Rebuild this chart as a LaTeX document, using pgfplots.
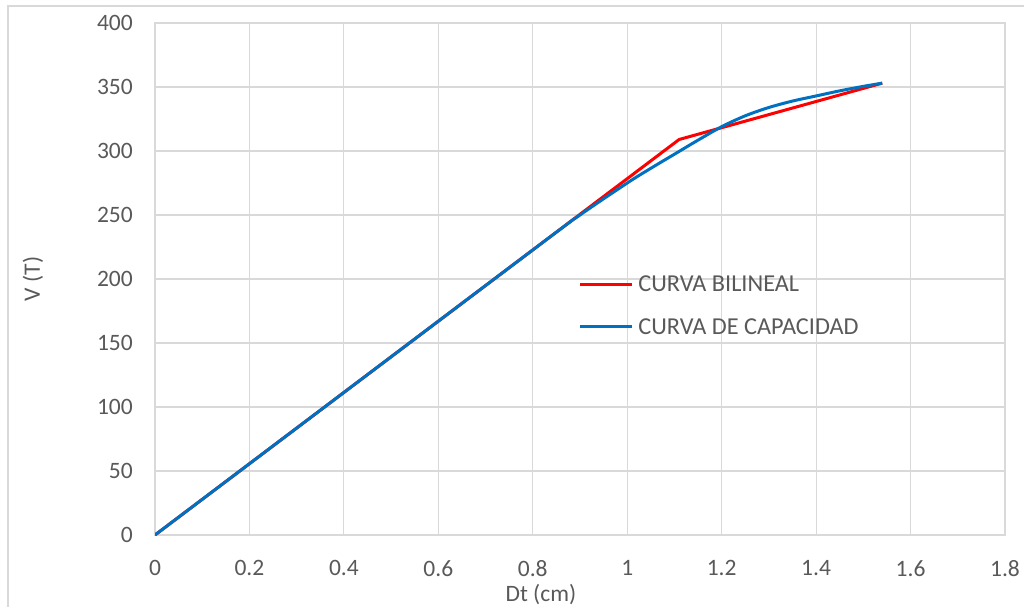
\documentclass[border=0pt]{standalone}
\usepackage{pgfplots}
\pgfplotsset{compat=1.18}
\usepackage{fontspec}
\setmainfont{Carlito}
\definecolor{txt}{HTML}{595959}
\definecolor{grd}{HTML}{D9D9D9}
\definecolor{bl}{HTML}{0070C0}
\begin{document}
\begin{tikzpicture}
\useasboundingbox (0pt,0pt) rectangle (1024pt,607pt);
\draw[grd, line width=1.2pt] (8pt,0pt) -- (8pt,601pt) -- (1024pt,601pt);
\begin{axis}[
  at={(155pt,72pt)}, anchor=south west,
  scale only axis, width=850pt, height=512pt,
  xmin=0, xmax=1.8, ymin=0, ymax=400,
  xtick={0,0.2,...,1.8}, ytick={0,50,...,400},
  xticklabels={0,0.2,0.4,0.6,0.8,1,1.2,1.4,1.6,1.8},
  grid=major, major grid style={grd, line width=1.2pt},
  axis line style={grd, line width=1.2pt},
  tick style={draw=none},
  /pgf/number format/assume math mode=true,
  tick label style={font=\fontsize{23.5}{28}\selectfont, text=txt},
  yticklabel style={inner sep=0pt, anchor=east, xshift=-22pt},
  xticklabel style={inner sep=0pt, anchor=north, yshift=-25pt},
  label style={font=\fontsize{23.5}{28}\selectfont, text=txt},
  xlabel={Dt (cm)}, ylabel={V (T)},
  xlabel style={at={(axis description cs:0.454,-0.117)}, anchor=center},
  ylabel style={at={(axis description cs:-0.1435,0.5)}, anchor=center},
  legend style={at={(axis cs:0.896,204)}, anchor=north west, draw=none, fill=none,
    font=\fontsize{24.3}{28}\selectfont, text=txt, row sep=21pt, column sep=3pt, inner sep=0pt},
  legend cell align=left,
  legend image code/.code={\draw[#1, line width=3pt] (0pt,0pt) -- (52pt,0pt);},
]
\addplot[red, line width=3pt] coordinates {(0,0) (1.11,309) (1.54,353)};
\addlegendentry{CURVA BILINEAL}
\addplot[bl, line width=3pt, smooth] coordinates {
(0,0) (0.8,222.7) (0.9,250) (1.0,275) (1.05,286.5) (1.1,297.5) (1.15,308.5) (1.2,319)
(1.25,327.5) (1.3,334) (1.35,339) (1.4,343) (1.45,347) (1.5,350.5) (1.54,353)};
\addlegendentry{CURVA DE CAPACIDAD}
\end{axis}
\end{tikzpicture}
\end{document}
